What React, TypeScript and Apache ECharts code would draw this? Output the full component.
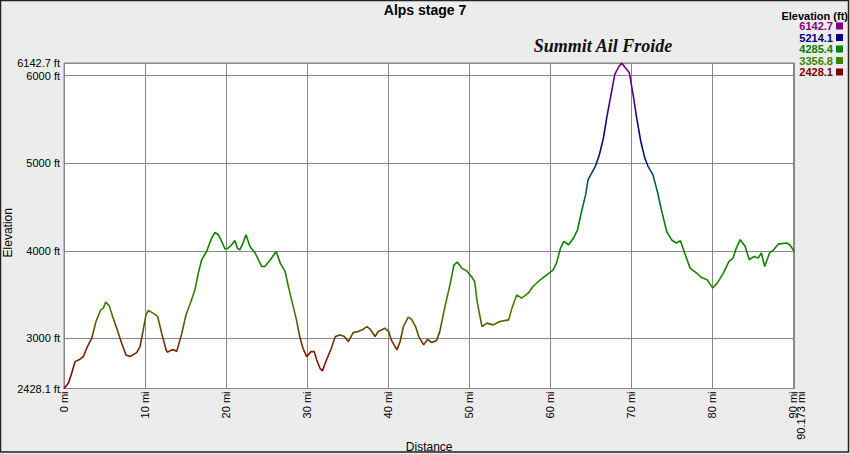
import React, { useEffect, useRef } from "react";
import * as echarts from "echarts";

const distanceMi = [
  0, 0.53, 0.95, 1.36, 1.98, 2.38, 2.8, 3.42, 3.95, 4.53, 4.86, 5.14, 5.6, 6.0, 6.58, 7.12, 7.65, 8.15, 8.97, 9.38,
  9.71, 10.12, 10.4, 11.0, 11.56, 12.06, 12.6, 12.75, 13.3, 13.6, 13.9, 14.5, 15.06, 15.6, 16.17, 16.58, 17.0, 17.6,
  18.23, 18.64, 19.05, 19.47, 19.88, 20.3, 20.7, 21.1, 21.4, 21.7, 22.1, 22.47, 22.96, 23.6, 24.4, 24.8, 25.4, 26.2,
  26.7, 27.3, 27.7, 28.1, 28.7, 29.1, 29.5, 29.96, 30.5, 30.9, 31.2, 31.6, 31.9, 32.4, 33.0, 33.5, 34.1, 34.6, 35.1,
  35.7, 36.3, 36.95, 37.4, 37.8, 38.4, 38.8, 39.6, 40.1, 40.4, 41.1, 41.5, 41.9, 42.5, 42.9, 43.4, 43.8, 44.4, 44.9,
  45.4, 46.0, 46.4, 47.0, 47.65, 48.15, 48.55, 49.1, 49.7, 50.3, 50.7, 51.0, 51.6, 52.2, 53.0, 53.8, 54.9, 55.3, 55.9,
  56.5, 57.3, 57.9, 58.8, 59.6, 60.4, 60.8, 61.3, 61.7, 62.3, 62.9, 63.4, 63.9, 64.4, 64.7, 65.6, 66.1, 66.6, 67.0,
  67.5, 68.0, 68.5, 68.85, 69.25, 69.8, 70.3, 70.7, 71.2, 71.7, 72.1, 72.7, 73.25, 73.8, 74.4, 75.0, 75.6, 76.1, 76.7,
  77.3, 78.1, 78.7, 79.4, 80.1, 80.65, 81.4, 82.1, 82.6, 83.0, 83.5, 84.1, 84.6, 85.2, 85.7, 86.1, 86.5, 87.1, 87.6,
  88.2, 89.2, 89.6, 90.173,
];

const elevationFt = [
  2428.1, 2488, 2602, 2735, 2762, 2792, 2888, 3000, 3192, 3326, 3345, 3414, 3371, 3250, 3097, 2945, 2811, 2792, 2838, 2906,
  3059, 3269, 3318, 3288, 3250, 3059, 2869, 2842, 2869, 2869, 2849, 3040, 3269, 3402, 3554, 3745, 3897, 3992,
  4145, 4209, 4183, 4106, 4020, 4031, 4069, 4118, 4031, 4011, 4088, 4183, 4049, 3974, 3821, 3821, 3889, 3992,
  3859, 3763, 3592, 3440, 3211, 3021, 2888, 2792, 2849, 2849, 2754, 2659, 2629, 2754, 2888, 3021, 3040, 3021, 2964,
  3066, 3078, 3105, 3135, 3105, 3021, 3078, 3116, 3078, 2983, 2869, 2964, 3135, 3242, 3219, 3135, 3021, 2926, 2990,
  2952, 2975, 3080, 3350, 3611, 3840, 3871, 3802, 3771, 3706, 3649, 3421, 3135, 3174, 3154, 3192, 3211, 3345, 3497,
  3459, 3516, 3592, 3669, 3726, 3783, 3859, 4031, 4106, 4069, 4145, 4240, 4449, 4640, 4812, 4964, 5097, 5288, 5517,
  5764, 6012, 6100, 6142.7, 6095, 6031, 5760, 5517, 5250, 5060, 4964, 4869, 4678, 4449, 4221, 4126, 4088, 4114, 3954,
  3802, 3745, 3695, 3669, 3574, 3631, 3745, 3878, 3916, 4031, 4126, 4049, 3897, 3935, 3916, 3974, 3821, 3974, 4011,
  4076, 4088, 4069, 3992,
];

const legendValues = [6142.7, 5214.1, 4285.4, 3356.8, 2428.1];
const legendColors = ["#800080", "#000080", "#008000", "#408000", "#800000"];
// gradient stops from low to high elevation (evenly spaced between min and max)
const gradientColors = ["#800000", "#7a2400", "#408000", "#1a8000", "#008000", "#005a5a", "#000080", "#400080", "#800080"];

const titleText = "Alps stage 7";
const annotationText = "Summit Ail Froide";
const legendTitle = "Elevation (ft)";

const FONT = "'Liberation Sans', Arial, sans-serif";

export default function App() {
  const ref = useRef<HTMLDivElement>(null);

  useEffect(() => {
    if (!ref.current) return;
    const chart = echarts.init(ref.current, null, { renderer: "svg" });
    const data = distanceMi.map((d, i) => [d, elevationFt[i]]);
    const minE = legendValues[legendValues.length - 1];
    const maxE = legendValues[0];
    const maxD = distanceMi[distanceMi.length - 1];

    const legendGraphics: any[] = [
      {
        type: "text",
        right: 2,
        top: 10,
        style: {
          text: legendTitle,
          font: "bold 11px " + FONT,
          fill: "#000",
        },
      },
    ];
    legendValues.forEach((v, i) => {
      const cy = 26 + i * 11.5;
      legendGraphics.push({
        type: "text",
        x: 833,
        y: cy,
        style: {
          text: v.toFixed(1),
          font: "bold 11px " + FONT,
          fill: legendColors[i],
          align: "right",
          verticalAlign: "middle",
        },
      });
      legendGraphics.push({
        type: "rect",
        shape: { x: 836, y: cy - 3.5, width: 7, height: 7 },
        style: { fill: legendColors[i] },
      });
    });

    const labelBase = { fontFamily: FONT, fontSize: 11, color: "#000" };

    chart.setOption({
      animation: false,
      backgroundColor: "#ececec",
      title: {
        text: titleText,
        left: "center",
        top: 3,
        padding: 0,
        textStyle: { fontFamily: FONT, fontWeight: "bold", fontSize: 14, color: "#000" },
      },
      grid: {
        left: 64,
        right: 55.6,
        top: 63,
        bottom: 65.5,
        containLabel: false,
        outerBoundsMode: "none",
        show: true,
        backgroundColor: "#ffffff",
        borderColor: "#888",
        borderWidth: 1,
      },
      xAxis: [
        {
          type: "value",
          min: 0,
          max: maxD,
          interval: 10,
          name: "Distance",
          nameLocation: "middle",
          nameGap: 52,
          nameMoveOverlap: false,
          nameTextStyle: { fontFamily: FONT, fontSize: 12, color: "#000" },
          axisLine: { show: true, lineStyle: { color: "#888" } },
          axisTick: { show: false },
          splitLine: { show: true, lineStyle: { color: "#888", width: 1 } },
          axisLabel: {
            ...labelBase,
            rotate: 90,
            margin: 3,
            showMinLabel: true,
            showMaxLabel: false,
            hideOverlap: false,
            formatter: (v: number) => v + " mi",
          },
        },
        {
          type: "value",
          min: 0,
          max: maxD,
          interval: maxD,
          position: "bottom",
          axisLine: { show: false },
          axisTick: { show: false },
          splitLine: { show: false },
          axisLabel: {
            ...labelBase,
            rotate: 90,
            margin: 3,
            showMinLabel: false,
            showMaxLabel: true,
            formatter: (v: number) => (v > 1 ? "{off|" + maxD + " mi}" : ""),
            rich: {
              off: { ...labelBase, padding: [14, 0, 0, 0] },
            },
          },
        },
      ],
      yAxis: {
        type: "value",
        min: minE,
        max: maxE,
        name: "Elevation",
        nameLocation: "middle",
        nameGap: 50,
        nameRotate: 90,
        nameMoveOverlap: false,
        nameTextStyle: { fontFamily: FONT, fontSize: 12, color: "#000", padding: [0, 14, 0, 0] },
        axisLine: { show: true, lineStyle: { color: "#888" } },
        axisTick: { show: false },
        splitLine: { show: true, lineStyle: { color: "#888", width: 1 } },
        axisLabel: {
          ...labelBase,
          margin: 4,
          showMinLabel: true,
          showMaxLabel: true,
          hideOverlap: false,
          formatter: (v: number) => v + " ft",
        },
      },
      visualMap: {
        type: "continuous",
        show: false,
        seriesIndex: 0,
        dimension: 1,
        min: minE,
        max: maxE,
        inRange: { color: gradientColors },
      },
      series: [
        {
          type: "line",
          xAxisIndex: 0,
          data,
          showSymbol: false,
          symbol: "none",
          lineStyle: { width: 1.6 },
        },
      ],
      graphic: [
        {
          type: "rect",
          shape: { x: 0.5, y: 0.5, width: 848, height: 451.5 },
          style: { fill: "none", stroke: "#222", lineWidth: 1.5 },
          silent: true,
        },
        {
          type: "text",
          x: 603,
          y: 46,
          style: {
            text: annotationText,
            font: "italic bold 18px 'Liberation Serif', 'DejaVu Serif', serif",
            fill: "#111",
            align: "center",
            verticalAlign: "middle",
          },
        },
        ...legendGraphics,
      ],
    });

    return () => chart.dispose();
  }, []);

  return <div ref={ref} style={{ position: "fixed", left: 0, top: 0, width: 850, height: 454 }} />;
}
